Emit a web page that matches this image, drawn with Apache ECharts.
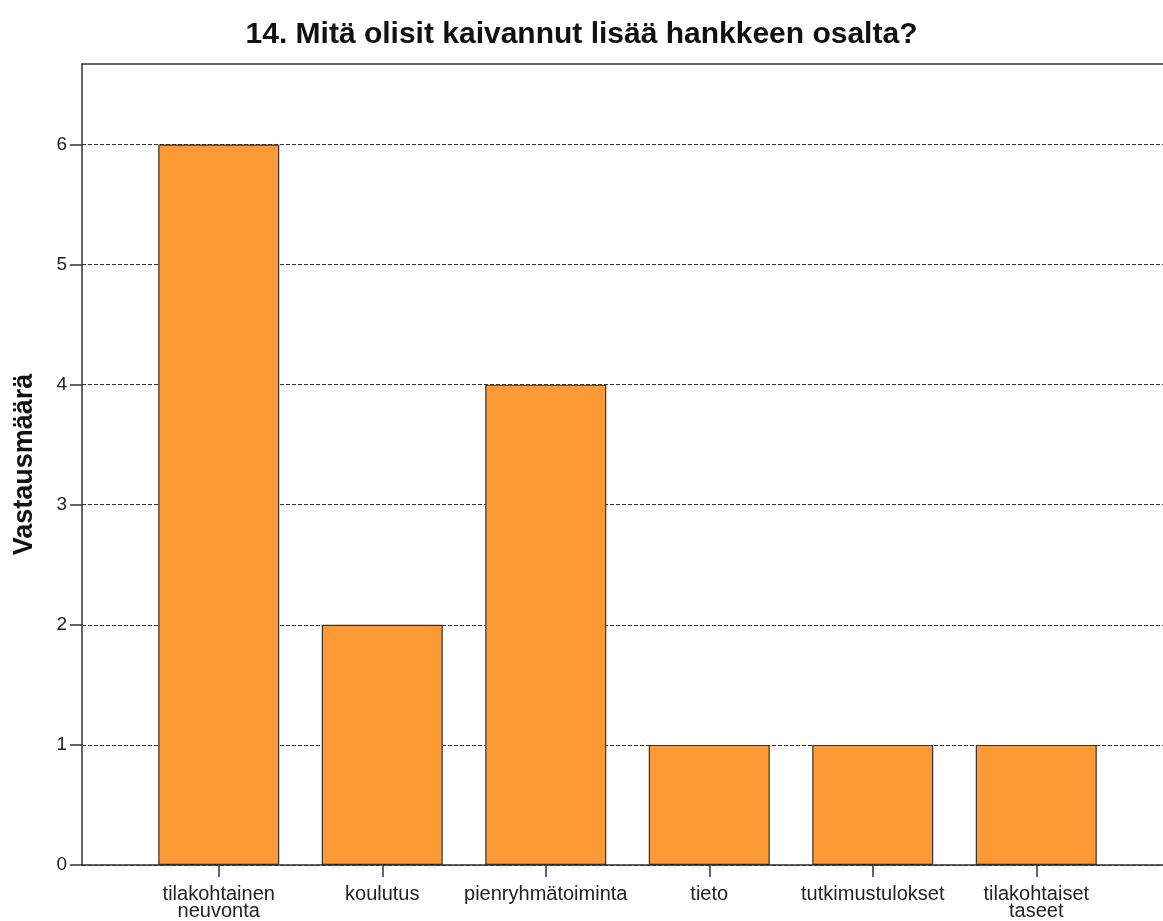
<!DOCTYPE html>
<html>
<head>
<meta charset="utf-8">
<script src="https://cdn.jsdelivr.net/npm/echarts@6/dist/echarts.min.js"></script>
<style>
  html, body { margin: 0; padding: 0; background: #fff; }
  #chart { width: 1163px; height: 921px; }
</style>
</head>
<body>
<div id="chart"></div>
<script>
  const titleText = '14. Mitä olisit kaivannut lisää hankkeen osalta?'
  const yName = 'Vastausmäärä'
  const categories = ['tilakohtainen\nneuvonta', 'koulutus', 'pienryhmätoiminta', 'tieto', 'tutkimustulokset', 'tilakohtaiset\ntaseet']
  const counts = [6, 2, 4, 1, 1, 1]
  const yTicks = [0, 1, 2, 3, 4, 5, 6]
  const yMax = 6.67

  const chart = echarts.init(document.getElementById('chart'))
  const font = '"Liberation Sans", Arial, sans-serif'
  const frame = { color: '#333', width: 1.5 }

  const option = {
    backgroundColor: '#fff',
    animation: false,
    title: {
      text: titleText,
      left: 'center',
      top: 15,
      textStyle: { fontFamily: font, fontSize: 30, fontWeight: 'bold', color: '#111' }
    },
    // grid 0: frame, y axis and dashed lines; grid 1: bars and category axis
    grid: [
      { left: 82, right: 0, top: 64, bottom: 56, outerBoundsMode: 'none' },
      { left: 137, right: 45, top: 64, bottom: 56, outerBoundsMode: 'none' }
    ],
    xAxis: [
      { gridIndex: 0, type: 'value', min: 0, max: 1, position: 'bottom',
        axisLine: { show: true, lineStyle: frame }, axisTick: { show: false }, axisLabel: { show: false }, splitLine: { show: false } },
      { gridIndex: 0, type: 'value', min: 0, max: 1, position: 'top',
        axisLine: { show: true, lineStyle: frame }, axisTick: { show: false }, axisLabel: { show: false }, splitLine: { show: false } },
      {
        gridIndex: 1,
        type: 'category',
        data: categories,
        axisLine: { show: false },
        axisTick: { show: true, alignWithLabel: true, length: 12, lineStyle: frame },
        axisLabel: { fontFamily: font, fontSize: 20, color: '#222', margin: 21, lineHeight: 17, interval: 0 }
      }
    ],
    yAxis: [
      {
        gridIndex: 0,
        type: 'value',
        min: 0,
        max: yMax,
        name: yName,
        nameLocation: 'middle',
        nameGap: 44,
        nameTextStyle: { fontFamily: font, fontSize: 27, fontWeight: 'bold', color: '#111' },
        axisLine: { show: true, lineStyle: frame },
        axisTick: { show: true, length: 12, customValues: yTicks, lineStyle: frame },
        axisLabel: { fontFamily: font, fontSize: 19, color: '#222', margin: 15, customValues: yTicks },
        splitLine: { show: true, lineStyle: { color: '#333', width: 1, type: [4, 2] } }
      },
      { gridIndex: 1, type: 'value', min: 0, max: yMax, show: false, splitLine: { show: false } }
    ],
    series: [{
      type: 'bar',
      xAxisIndex: 2,
      yAxisIndex: 1,
      data: counts,
      barWidth: 121,
      itemStyle: { color: '#fd9a35', borderColor: '#333', borderWidth: 1.2 }
    }]
  }
  chart.setOption(option)
</script>
</body>
</html>
